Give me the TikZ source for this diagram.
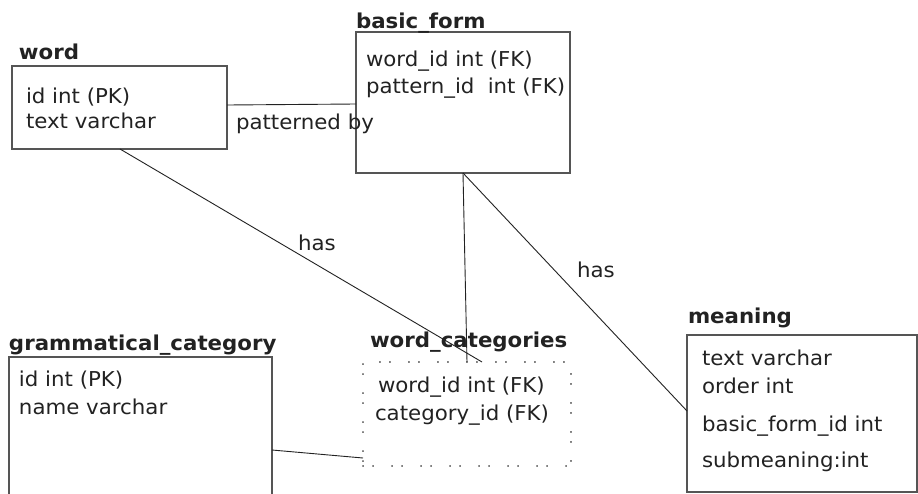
\documentclass[tikz,border=0pt]{standalone}
\usepackage{fontspec}
\setmainfont[FakeStretch=1.04]{DejaVu Sans}
\begin{document}
\begin{tikzpicture}[x=1pt,y=-1pt,
  every node/.style={inner sep=0pt, outer sep=0pt, text=txt},
  box/.style={draw=boxgray, line width=1.3pt, anchor=north west},
  dotbox/.style={draw=txt, line width=1.5pt, dash pattern=on 0.1pt off 9.9pt on 0.1pt off 18.9pt, line cap=round, anchor=north west},
  ttl/.style={anchor=base west, font=\fontsize{20.5}{24}\selectfont\bfseries},
  item/.style={anchor=base west, font=\fontsize{20.5}{24}\selectfont},
  lbl/.style={anchor=base west, font=\fontsize{20.5}{24}\selectfont},
  conn/.style={draw=txt, line width=0.9pt}]
\definecolor{txt}{HTML}{222222}
\definecolor{boxgray}{HTML}{555555}
\clip (0,0) rectangle (918,493);
\fill[white] (0,0) rectangle (918,493);

% word
\node[box, minimum width=215pt, minimum height=83pt] (word) at (12,66) {};
\node[ttl] (wordT) at (19,59) {word};
\node[item] (word1) at (26,103) {id int (PK)};
\node[item] (word2) at (26,128) {text varchar};

% basic_form
\node[box, minimum width=214pt, minimum height=141pt] (bf) at (356,32) {};
\node[ttl] (bfT) at (356,28) {basic\_form};
\node[item] (bf1) at (366,66) {word\_id int (FK)};
\node[item] (bf2) at (366,93) {pattern\_id\hspace{0.65em}int (FK)};

% grammatical_category
\node[box, minimum width=263pt, minimum height=160pt] (gc) at (9,357) {};
\node[ttl] (gcT) at (9,350) {grammatical\_category};
\node[item] (gc1) at (19,386) {id int (PK)};
\node[item] (gc2) at (19,414) {name varchar};

% word_categories
\node[dotbox, minimum width=208pt, minimum height=104pt] (wc) at (363,362) {};
\node[ttl] (wcT) at (370,347) {word\_categories};
\node[item] (wc1) at (378,392) {word\_id int (FK)};
\node[item] (wc2) at (375,420) {category\_id (FK)};

% meaning
\node[box, minimum width=230pt, minimum height=157pt] (mn) at (687,335) {};
\node[ttl] (mnT) at (688,323) {meaning};
\node[item] (mn1) at (702,365) {text varchar};
\node[item] (mn2) at (702,393) {order int};
\node[item] (mn3) at (702,431) {basic\_form\_id int};
\node[item] (mn4) at (702,467) {submeaning:int};

% connectors
\draw[conn] ([yshift=-39pt]word.north east) -- ([yshift=-72pt]bf.north west);
\draw[conn] ([xshift=108pt]word.south west) -- ([xshift=119pt]wc.north west);
\draw[conn] ([xshift=107pt]bf.south west) -- ([xshift=104pt]wc.north west);
\draw[conn] ([xshift=107pt]bf.south west) -- ([yshift=-76pt]mn.north west);
\draw[conn] ([yshift=-93pt]gc.north east) -- ([yshift=8pt]wc.south west);

% labels
\node[lbl] (l1) at (236,129) {patterned by};
\node[lbl] (l2) at (298,250) {has};
\node[lbl] (l3) at (577,277) {has};
\end{tikzpicture}
\end{document}
